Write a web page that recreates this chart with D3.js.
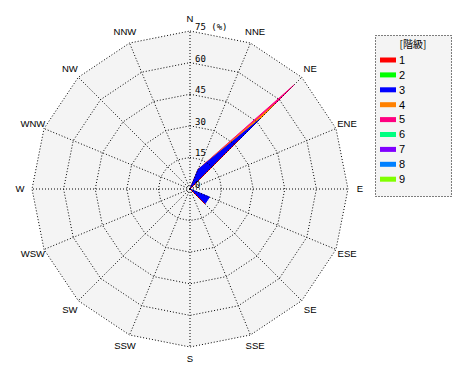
<!DOCTYPE html>
<html>
<head>
<meta charset="utf-8">
<script src="https://cdn.jsdelivr.net/npm/d3@7"></script>
<style>
  body { margin: 0; background: #fff; }
  text { fill: #000; }
</style>
</head>
<body>
<div id="chart"></div>
<script>
  /**
   * DATA
   * */
  const directions = ["N","NNE","NE","ENE","E","ESE","SE","SSE","S","SSW","SW","WSW","W","WNW","NW","NNW"];
  const ticks = [0, 15, 30, 45, 60, 75];
  const classes = ["1","2","3","4","5","6","7","8","9"];
  const colors = ["#ff0000","#00ff00","#0000ff","#ff8000","#ff0080","#00ff80","#8000ff","#0080ff","#80ff00"];

  // frequency (%) per direction, one array per class
  const class1 = [0, 0, 33, 0, 0, 0, 10, 0, 0, 0, 0, 0, 0, 0, 0, 0];
  const class2 = [0, 0, 0, 0, 0, 0, 0, 0, 0, 0, 0, 0, 0, 0, 0, 0];
  const class3 = [0, 10, 47, 0, 0, 10, 10, 0, 0, 0, 0, 0, 0, 0, 0, 0];
  const class4 = [0, 10, 57, 0, 0, 0, 0, 0, 0, 0, 0, 0, 0, 0, 0, 0];
  const class5 = [0, 10, 70, 0, 0, 0, 0, 0, 0, 0, 0, 0, 0, 0, 0, 0];
  const class6 = [0, 0, 0, 0, 0, 0, 0, 0, 0, 0, 0, 0, 0, 0, 0, 0];
  const class7 = [0, 0, 0, 0, 0, 0, 0, 0, 0, 0, 0, 0, 0, 0, 0, 0];
  const class8 = [0, 0, 0, 0, 0, 0, 0, 0, 0, 0, 0, 0, 0, 0, 0, 0];
  const class9 = [0, 0, 0, 0, 0, 0, 0, 0, 0, 0, 0, 0, 0, 0, 0, 0];
  const series = [class1, class2, class3, class4, class5, class6, class7, class8, class9];

  /**
   * CONSTANTS
   * */
  const width = 470, height = 380;
  const cx = 190, cy = 189, outerR = 158;
  const dotted = "1,2";

  const svg = d3.select("#chart")
    .append("svg")
    .attr("width", width)
    .attr("height", height);

  const angle = d3.scaleLinear()
    .domain([0, directions.length])
    .range([0, 2 * Math.PI]);

  const rScale = d3.scaleLinear()
    .domain([0, 75])
    .range([0, outerR]);

  const g = svg.append("g")
    .attr("transform", `translate(${cx},${cy})`);

  const ringLine = d3.lineRadial()
    .angle((d, i) => angle(i))
    .radius(d => rScale(d))
    .curve(d3.curveLinearClosed);

  // plot background
  g.append("path")
    .attr("d", ringLine(directions.map(() => 75)))
    .attr("fill", "#f4f4f4");

  // data polygons, drawn 9 -> 1 so lower classes sit on top
  const dataLine = d3.lineRadial()
    .angle((d, i) => angle(i))
    .radius(d => rScale(d))
    .curve(d3.curveLinearClosed);

  g.selectAll("path.series")
    .data(series.map((s, i) => ({ values: s, color: colors[i] })).reverse())
    .join("path")
    .attr("class", "series")
    .attr("d", d => dataLine(d.values))
    .attr("fill", d => d.color)
    .attr("stroke", d => d.color)
    .attr("stroke-width", 1)
    .attr("stroke-linejoin", "miter");

  // rings
  g.selectAll("path.ring")
    .data(ticks.filter(t => t > 0))
    .join("path")
    .attr("class", "ring")
    .attr("d", t => ringLine(directions.map(() => t)))
    .attr("fill", "none")
    .attr("stroke", "#000")
    .attr("stroke-width", 1)
    .attr("stroke-dasharray", dotted);

  // spokes
  g.selectAll("line.spoke")
    .data(directions)
    .join("line")
    .attr("class", "spoke")
    .attr("x1", 0)
    .attr("y1", 0)
    .attr("x2", (d, i) => rScale(75) * Math.sin(angle(i)))
    .attr("y2", (d, i) => -rScale(75) * Math.cos(angle(i)))
    .attr("stroke", "#000")
    .attr("stroke-width", 1)
    .attr("stroke-dasharray", dotted);

  // direction labels
  g.selectAll("text.dir")
    .data(directions)
    .join("text")
    .attr("class", "dir")
    .attr("x", (d, i) => 170 * Math.sin(angle(i)))
    .attr("y", (d, i) => -170 * Math.cos(angle(i)))
    .attr("text-anchor", "middle")
    .attr("dy", "0.35em")
    .style("font-family", "'Liberation Sans', sans-serif")
    .style("font-size", "9.5px")
    .text(d => d);

  // radial tick labels
  g.selectAll("text.tick")
    .data(ticks)
    .join("text")
    .attr("class", "tick")
    .attr("x", 5)
    .attr("y", t => -rScale(t) - 1)
    .style("font-family", "'DejaVu Sans Mono', monospace")
    .style("font-size", "9px")
    .text(t => t === 75 ? "75 (%)" : t);

  // legend
  const legend = svg.append("g");
  legend.append("rect")
    .attr("x", 375.5)
    .attr("y", 35.5)
    .attr("width", 76)
    .attr("height", 161)
    .attr("fill", "#f4f4f4")
    .attr("stroke", "#000")
    .attr("stroke-dasharray", dotted);

  legend.append("text")
    .attr("x", 413)
    .attr("y", 48)
    .attr("text-anchor", "middle")
    .style("font-family", "'Noto Sans CJK JP', sans-serif")
    .style("font-size", "10px")
    .text("[階級]");

  const item = legend.selectAll("g.item")
    .data(classes)
    .join("g")
    .attr("class", "item")
    .attr("transform", (d, i) => `translate(380, ${60 + i * 14.9})`);

  item.append("rect")
    .attr("x", 0)
    .attr("y", -2.5)
    .attr("width", 16)
    .attr("height", 5)
    .attr("fill", (d, i) => colors[i]);

  item.append("text")
    .attr("x", 19)
    .attr("y", 0)
    .attr("dy", "0.35em")
    .style("font-family", "'Liberation Sans', sans-serif")
    .style("font-size", "11px")
    .text(d => d);
</script>
</body>
</html>
